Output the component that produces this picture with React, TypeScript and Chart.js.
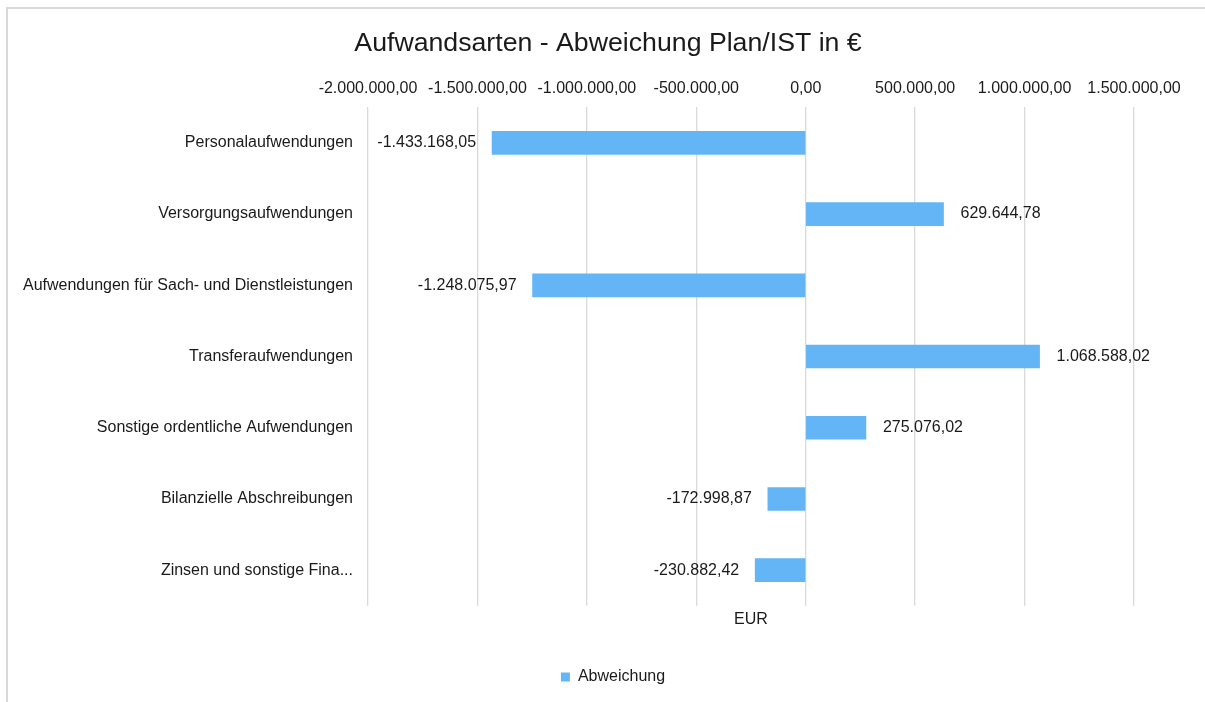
import React, { useEffect, useRef } from "react";
import { Chart, registerables } from "chart.js";

Chart.register(...registerables);

const categories = [
  "Personalaufwendungen",
  "Versorgungsaufwendungen",
  "Aufwendungen für Sach- und Dienstleistungen",
  "Transferaufwendungen",
  "Sonstige ordentliche Aufwendungen",
  "Bilanzielle Abschreibungen",
  "Zinsen und sonstige Fina...",
];
const abweichung = [
  -1433168.05, 629644.78, -1248075.97, 1068588.02, 275076.02, -172998.87, -230882.42,
];
const seriesLabel = "Abweichung";
const titleText = "Aufwandsarten - Abweichung Plan/IST in €";
const axisTitle = "EUR";
const axisMin = -2000000;
const axisMax = 1500000;
const axisStep = 500000;

const FONT = "'Liberation Sans', Arial, sans-serif";
const TEXT = "#1a1a1a";
const BAR = "#64B5F6";

function fmtDE(v: number): string {
  const neg = v < 0;
  const abs = Math.abs(v);
  const fixed = abs.toFixed(2);
  const [ip, dp] = fixed.split(".");
  const grouped = ip.replace(/\B(?=(\d{3})+(?!\d))/g, ".");
  return (neg ? "-" : "") + grouped + "," + dp;
}

const dataLabels = {
  id: "dataLabels",
  afterDatasetsDraw(chart: any) {
    const ctx = chart.ctx;
    const meta = chart.getDatasetMeta(0);
    const ds = chart.data.datasets[0];
    ctx.save();
    ctx.font = `16px ${FONT}`;
    ctx.fillStyle = TEXT;
    ctx.textBaseline = "middle";
    meta.data.forEach((el: any, i: number) => {
      const v = ds.data[i] as number;
      const txt = fmtDE(v);
      if (v < 0) {
        ctx.textAlign = "right";
        ctx.fillText(txt, el.x - 16, el.y);
      } else {
        ctx.textAlign = "left";
        ctx.fillText(txt, el.x + 17, el.y);
      }
    });
    ctx.restore();
  },
};

// Centre title and legend over the whole chart box rather than the padded region
const shiftBoxes = {
  id: "shiftBoxes",
  afterLayout(chart: any) {
    const t = chart.titleBlock;
    if (t) {
      t.left += 31;
      t.right += 31;
    }
    const l = chart.legend;
    if (l) {
      l.left += 36;
      l.right += 36;
    }
  },
};

export default function App() {
  const ref = useRef<HTMLCanvasElement | null>(null);
  useEffect(() => {
    if (!ref.current) return;
    const chart = new Chart(ref.current, {
      type: "bar",
      data: {
        labels: categories,
        datasets: [
          {
            label: seriesLabel,
            data: abweichung,
            backgroundColor: BAR,
            borderWidth: 0,
            barThickness: 23,
          },
        ],
      },
      options: {
        indexAxis: "y",
        animation: false,
        responsive: false,
        maintainAspectRatio: false,
        layout: { padding: { top: 10, left: 20, right: 71, bottom: 7 } },
        scales: {
          x: {
            type: "linear",
            position: "top",
            min: axisMin,
            max: axisMax,
            ticks: {
              stepSize: axisStep,
              padding: 9,
              color: TEXT,
              font: { family: FONT, size: 16 },
              maxRotation: 0,
              callback: (v: any) => fmtDE(Number(v)),
            },
            grid: { color: "#d9d9d9", lineWidth: 1.3, drawTicks: false },
            border: { display: false },
          },
          x2: {
            type: "linear",
            position: "bottom",
            min: axisMin,
            max: axisMax,
            ticks: { display: false },
            grid: { display: false, drawTicks: false },
            border: { display: false },
            title: {
              display: true,
              text: axisTitle,
              color: TEXT,
              font: { family: FONT, size: 16 },
              padding: { top: 4, bottom: 30 },
            },
          },
          y: {
            ticks: {
              padding: 15,
              color: TEXT,
              font: { family: FONT, size: 16 },
            },
            grid: { display: false, drawTicks: false },
            border: { display: false },
            afterFit: (scale: any) => {
              scale.width = 368 - 20;
            },
          },
        },
        plugins: {
          title: {
            display: true,
            text: titleText,
            color: TEXT,
            font: { family: FONT, size: 26.7, weight: "normal" },
            padding: { top: 18, bottom: 10 },
          },
          legend: {
            display: true,
            position: "bottom",
            labels: {
              boxWidth: 9,
              boxHeight: 9,
              padding: 10,
              color: TEXT,
              font: { family: FONT, size: 16 },
            },
          },
          tooltip: { enabled: false },
        },
      },
      plugins: [dataLabels, shiftBoxes],
    });
    return () => chart.destroy();
  }, []);

  return (
    <div style={{ position: "absolute", left: 0, top: 0, width: 1205, height: 702, background: "#fff", overflow: "hidden" }}>
      <div
        style={{
          position: "absolute",
          left: 6,
          top: 7,
          width: 1300,
          height: 800,
          borderLeft: "2px solid #d9d9d9",
          borderTop: "2px solid #d9d9d9",
        }}
      />
      <canvas ref={ref} width={1205} height={702} style={{ position: "absolute", left: 0, top: 0, width: 1205, height: 702 }} />
    </div>
  );
}
